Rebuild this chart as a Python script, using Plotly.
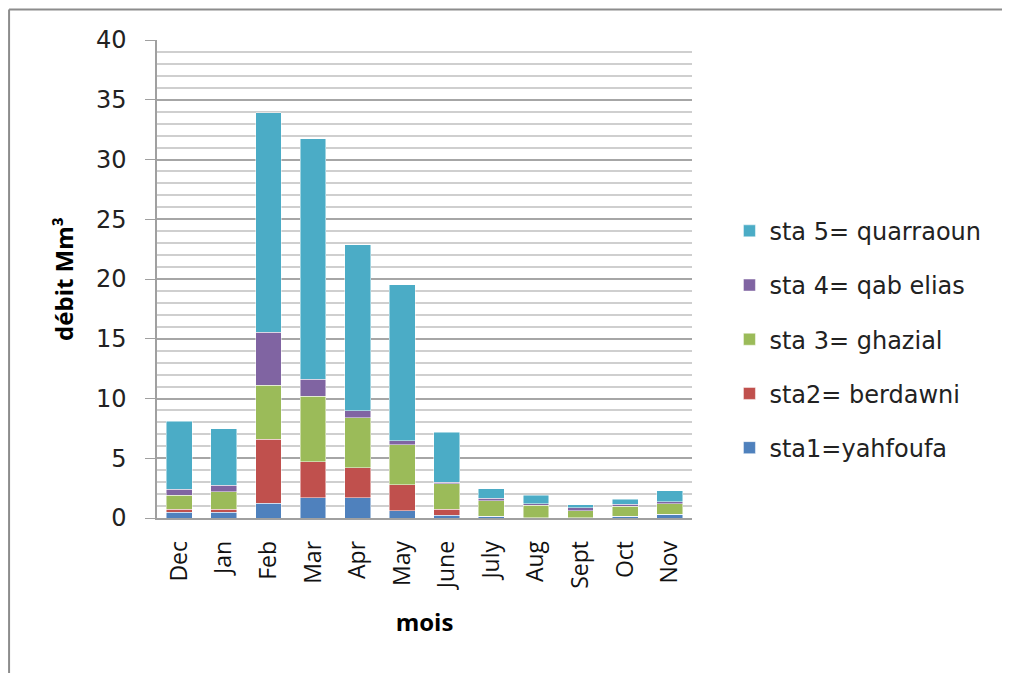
import plotly.graph_objects as go

months = ["Dec", "Jan", "Feb", "Mar", "Apr", "May", "June", "July", "Aug", "Sept", "Oct", "Nov"]
sta1 = [0.50, 0.50, 1.22, 1.70, 1.70, 0.61, 0.25, 0.14, 0.02, 0.02, 0.14, 0.33]
sta2 = [0.25, 0.25, 5.39, 2.99, 2.51, 2.18, 0.47, 0.00, 0.00, 0.00, 0.00, 0.00]
sta3 = [1.17, 1.43, 4.52, 5.49, 4.18, 3.32, 2.15, 1.31, 1.03, 0.59, 0.83, 0.87]
sta4 = [0.48, 0.58, 4.43, 1.45, 0.59, 0.36, 0.14, 0.22, 0.15, 0.23, 0.17, 0.16]
sta5 = [5.70, 4.69, 18.34, 20.11, 13.87, 13.03, 4.15, 0.76, 0.69, 0.25, 0.42, 0.90]

names = ["sta1=yahfoufa", "sta2= berdawni", "sta 3= ghazial", "sta 4= qab elias", "sta 5= quarraoun"]
colors = ["#4F81BD", "#C0504D", "#9BBB59", "#8064A2", "#4BACC6"]
series = [sta1, sta2, sta3, sta4, sta5]

fig = go.Figure()
for i, (n, c, s) in enumerate(zip(names, colors, series)):
    fig.add_trace(go.Bar(
        x=months, y=s, name=n, legendgroup=n, legendrank=10 - i,
        marker=dict(color=c, line=dict(color="rgba(255,255,255,0.6)", width=0.8)),
    ))

fig.update_layout(
    barmode="stack",
    bargap=0.42,
    width=1002, height=665,
    paper_bgcolor="white", plot_bgcolor="white",
    margin=dict(l=149, r=318, t=32, b=155, autoexpand=False),
    font=dict(family="DejaVu Sans", color="#000000"),
    showlegend=True,
    legend=dict(
        traceorder="grouped", tracegroupgap=20,
        x=1.07, xanchor="left", y=0.647, yanchor="top",
        font=dict(family="DejaVu Sans", size=24, color="#222222"),
        itemwidth=30,
    ),
    xaxis=dict(
        tickangle=-90, tickfont=dict(family="Open Sans", size=23, color="#111111"),
        showline=True, linecolor="#a0a0a0", linewidth=1.5,
        ticks="", showgrid=False, ticklabelstandoff=12,
        title=dict(text="<b>mois</b>", font=dict(family="Open Sans", size=24), standoff=25),
    ),
    yaxis=dict(
        range=[0, 40], dtick=5, tick0=0,
        tickfont=dict(family="DejaVu Sans", size=24, color="#222222"),
        showline=True, linecolor="#a0a0a0", linewidth=1.5,
        ticks="outside", ticklen=10, tickcolor="#a0a0a0", ticklabelstandoff=14,
        showgrid=True, gridcolor="#a6a6a6", gridwidth=1.5,
        minor=dict(dtick=1, showgrid=True, gridcolor="#cfcfcf", gridwidth=1.5),
        zeroline=False,
        title=dict(text="<b>débit Mm³</b>", font=dict(family="Open Sans", size=24), standoff=16),
    ),
    shapes=[
        dict(type="line", xref="paper", yref="paper",
             x0=-0.2765, x1=-0.2765, y0=-1.0, y1=1.064,
             line=dict(color="#8c8c8c", width=2), layer="below"),
        dict(type="line", xref="paper", yref="paper",
             x0=-0.2765, x1=2.0, y0=1.064, y1=1.064,
             line=dict(color="#8c8c8c", width=2), layer="below"),
    ],
)

fig.write_html("out.html")
